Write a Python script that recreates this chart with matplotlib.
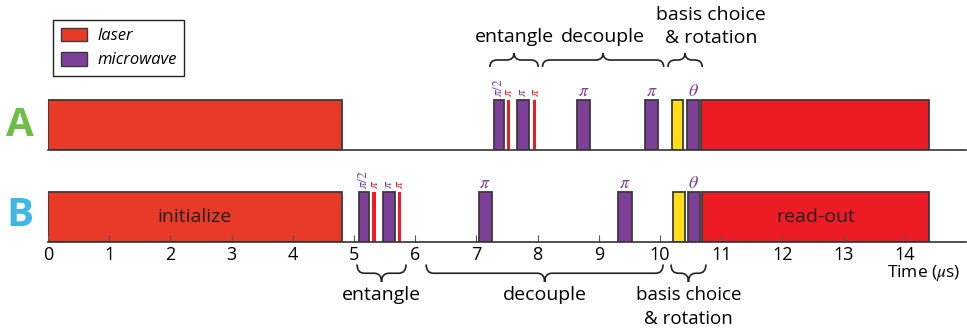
import matplotlib
matplotlib.use('Agg')
import matplotlib.pyplot as plt
from matplotlib.patches import Patch, PathPatch
from matplotlib.path import Path

plt.rcParams['font.family'] = ['Open Sans', 'DejaVu Sans']
plt.rcParams['mathtext.fontset'] = 'stix'

# pulses: (start, end, kind) in microseconds
pulses_A = [(0.0, 4.80, 'laser'), (7.29, 7.45, 'mw'), (7.50, 7.55, 'line'),
            (7.66, 7.86, 'mw'), (7.92, 7.97, 'line'), (8.64, 8.86, 'mw'),
            (9.75, 9.97, 'mw'), (10.20, 10.38, 'basis'), (10.44, 10.64, 'mw'),
            (10.67, 14.40, 'readout')]
pulses_B = [(0.0, 4.80, 'laser'), (5.08, 5.25, 'mw'), (5.30, 5.36, 'line'),
            (5.47, 5.67, 'mw'), (5.72, 5.77, 'line'), (7.04, 7.25, 'mw'),
            (9.31, 9.54, 'mw'), (10.21, 10.41, 'basis'), (10.46, 10.65, 'mw'),
            (10.69, 14.40, 'readout')]

# pulse labels: (x, text, colour, rotation)
labels_A = [(7.36, r'$\pi/2$', 'mw', 90), (7.53, r'$\pi$', 'line', 90),
            (7.75, r'$\pi$', 'mw', 90), (7.96, r'$\pi$', 'line', 90),
            (8.75, r'$\pi$', 'mw', 0), (9.86, r'$\pi$', 'mw', 0),
            (10.54, r'$\theta$', 'mw', 0)]
labels_B = [(5.16, r'$\pi/2$', 'mw', 90), (5.33, r'$\pi$', 'line', 90),
            (5.57, r'$\pi$', 'mw', 90), (5.75, r'$\pi$', 'line', 90),
            (7.14, r'$\pi$', 'mw', 0), (9.42, r'$\pi$', 'mw', 0),
            (10.55, r'$\theta$', 'mw', 0)]

# brace groups: (start, end, text)
braces_A = [(7.22, 8.01, 'entangle'), (8.08, 10.06, 'decouple'),
            (10.13, 10.69, 'basis choice\n& rotation')]
braces_B = [(5.05, 5.85, 'entangle'), (6.18, 10.05, 'decouple'),
            (10.18, 10.75, 'basis choice\n& rotation')]

ticks = list(range(15))

colors = {'laser': '#E83A26', 'readout': '#ED1C24', 'mw': '#7D3F98',
          'basis': '#FFDE17', 'line': '#ED1C24'}
edge = '#3a3a3a'


def brace(ax, x0, x1, y_tip, y_point, r=0.12):
    xm = (x0 + x1) / 2
    yb = (y_tip + y_point) / 2
    verts = [(x0, y_tip), (x0, yb), (x0 + r, yb), (xm - r, yb), (xm, yb), (xm, y_point),
             (xm, yb), (xm + r, yb), (x1 - r, yb), (x1, yb), (x1, y_tip)]
    codes = [Path.MOVETO, Path.CURVE3, Path.CURVE3, Path.LINETO, Path.CURVE3, Path.CURVE3,
             Path.CURVE3, Path.CURVE3, Path.LINETO, Path.CURVE3, Path.CURVE3]
    ax.add_patch(PathPatch(Path(verts, codes), fc='none', ec='#222222', lw=1.2, clip_on=False))


def lane(ax, pulses, labels):
    for s, e, k in pulses:
        if k == 'line':
            ax.bar(s, 1.0, width=e - s, align='edge', color=colors[k], lw=0)
        else:
            ax.bar(s, 1.0, width=e - s, align='edge', color=colors[k], ec=edge, lw=1.3)
    for x, t, k, rot in labels:
        if rot:
            ax.text(x, 1.06, t, color=colors[k], rotation=rot, ha='center', va='bottom',
                    fontsize=9.5, clip_on=False)
        else:
            ax.text(x, 1.18, t, color=colors[k], ha='center', va='center',
                    fontsize=13, clip_on=False)
    ax.set_xlim(0, 15)
    ax.set_ylim(0, 1.2)
    for sp in ['top', 'left', 'right']:
        ax.spines[sp].set_visible(False)
    ax.spines['bottom'].set_color('#333333')
    ax.spines['bottom'].set_linewidth(1.2)
    ax.set_yticks([])


fig = plt.figure(figsize=(9.67, 3.31), dpi=100)
W, H = 967, 331
axA = fig.add_axes([48 / W, (H - 150) / H, 15 * 61.2 / W, 60 / H])
axB = fig.add_axes([48 / W, (H - 242) / H, 15 * 61.2 / W, 60 / H])

lane(axA, pulses_A, labels_A)
lane(axB, pulses_B, labels_B)
axA.set_xticks([])
axB.set_xticks(ticks)
axB.tick_params(axis='x', direction='in', length=5, color='#555555', labelsize=13, pad=3)

axB.text(2.4, 0.5, 'initialize', ha='center', va='center', fontsize=14, color='#231F20')
axB.text(12.55, 0.5, 'read-out', ha='center', va='center', fontsize=14, color='#231F20')
axB.text(14.31, -0.62, r'Time ($\mu$s)', ha='center', va='center', fontsize=12.5, clip_on=False)

for x0, x1, t in braces_A:
    brace(axA, x0, x1, 1.66, 1.94)
    if '\n' in t:
        a, b = t.split('\n')
        axA.text((x0 + x1) / 2 + 0.42, 2.7, a, ha='center', va='center', fontsize=14, clip_on=False)
        axA.text((x0 + x1) / 2 + 0.42, 2.24, b, ha='center', va='center', fontsize=14, clip_on=False)
    else:
        axA.text((x0 + x1) / 2, 2.26, t, ha='center', va='center', fontsize=14, clip_on=False)

for x0, x1, t in braces_B:
    brace(axB, x0, x1, -0.45, -0.8)
    if '\n' in t:
        a, b = t.split('\n')
        axB.text((x0 + x1) / 2, -1.06, a, ha='center', va='center', fontsize=13.5, clip_on=False)
        axB.text((x0 + x1) / 2, -1.54, b, ha='center', va='center', fontsize=13.5, clip_on=False)
    else:
        axB.text((x0 + x1) / 2, -1.06, t, ha='center', va='center', fontsize=14, clip_on=False)

fig.text(20 / W, 1 - 125 / H, 'A', color='#6CBE45', fontsize=29, fontweight='bold', ha='center', va='center')
fig.text(20 / W, 1 - 216 / H, 'B', color='#3FB6E8', fontsize=29, fontweight='bold', ha='center', va='center')

handles = [Patch(fc=colors['laser'], ec=edge, label='laser'),
           Patch(fc=colors['mw'], ec=edge, label='microwave')]
leg = fig.legend(handles=handles, loc='upper left', bbox_to_anchor=(53 / W, 1 - 20 / H),
                 borderaxespad=0, fancybox=False, edgecolor='#222222',
                 prop={'style': 'italic', 'size': 12}, handlelength=1.6, handleheight=0.9,
                 handletextpad=0.6, borderpad=0.45, labelspacing=0.45, framealpha=1)
leg.get_frame().set_linewidth(1.0)

fig.savefig('out.png', dpi=100)
